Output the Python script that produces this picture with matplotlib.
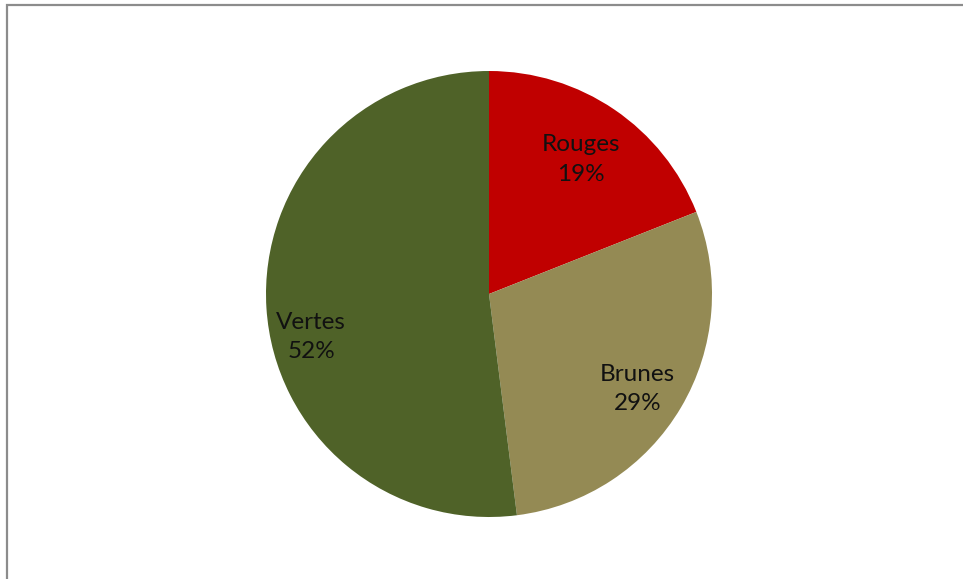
import numpy as np
import matplotlib.pyplot as plt
from matplotlib.patches import Rectangle

# parts du camembert
categories = ['Rouges', 'Brunes', 'Vertes']
valeurs = [19, 29, 52]
couleurs = ['#C00000', '#948A54', '#4F6228']

# position des etiquettes dans chaque part (fraction du rayon, decalage d'angle)
dist_etiq = [0.73, 0.79, 0.82]
decal_angle = [0, -2, 10]

fig = plt.figure(figsize=(9.63, 5.79), dpi=100)
ax = fig.add_axes([0, 0, 1, 1])

cx, cy, r = 489, 285, 223
wedges, _ = ax.pie(valeurs, colors=couleurs, startangle=90, counterclock=False,
                   center=(cx, cy), radius=r, frame=False)

total = sum(valeurs)
for w, nom, v, d, da in zip(wedges, categories, valeurs, dist_etiq, decal_angle):
    ang = np.deg2rad((w.theta1 + w.theta2) / 2 + da)
    x = cx + d * r * np.cos(ang)
    y = cy + d * r * np.sin(ang)
    ax.text(x, y, f"{nom}\n{round(100 * v / total)}%", ha='center', va='center',
            fontsize=17.5, family='Lato', color='#111111', linespacing=1.5)

ax.set_xlim(0, 963)
ax.set_ylim(0, 579)
ax.set_aspect('equal')
ax.axis('off')

# cadre gris (haut et gauche visibles)
fig.patches.append(Rectangle((7 / 963, -0.1), 1.2, 574 / 579 + 0.1,
                             transform=fig.transFigure, fill=False,
                             edgecolor='#8c8c8c', linewidth=1.6))

fig.savefig('out.png', dpi=100)
